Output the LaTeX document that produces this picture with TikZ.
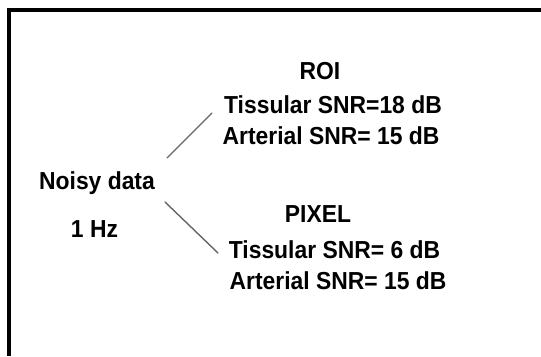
\documentclass[tikz,border=0pt]{standalone}
\usepackage{fontspec}
\setmainfont{Liberation Sans}[FakeStretch=0.93]
\usepackage{xcolor}
\usepackage{tikz}
\tikzset{
  fdframe/.style={line width=2pt, draw=black, line cap=butt},
  fdlink/.style={line width=0.8pt, draw=black!60, line cap=round},
  fdtext/.style={font=\fontsize{14}{16}\selectfont\bfseries, inner sep=0pt, anchor=center},
}

\begin{document}
\begin{tikzpicture}
\useasboundingbox (0.000,0.000) rectangle (10.820,7.120);
\draw[fdframe] (10.820,6.920) -- (0.180,6.920) -- (0.180,0.000);
\node[fdtext] (noisy) at (1.940,3.460) {Noisy data};
\node[fdtext] (hz) at (1.890,2.540) {1 Hz};
\node[fdtext] (roi) at (6.400,5.700) {ROI};
\node[fdtext] (roitis) at (6.660,5.020) {Tissular SNR=18 dB};
\node[fdtext] (roiart) at (6.620,4.400) {Arterial SNR= 15 dB};
\node[fdtext] (pixel) at (6.360,2.840) {PIXEL};
\node[fdtext] (pixtis) at (6.690,2.120) {Tissular SNR= 6 dB};
\node[fdtext] (pixart) at (6.760,1.500) {Arterial SNR= 15 dB};
\coordinate (upfrom) at (3.340,3.960);
\coordinate (upto) at (4.240,4.860);
\coordinate (downfrom) at (3.300,3.080);
\coordinate (downto) at (4.360,2.060);
\draw[fdlink] (upfrom) -- (upto);
\draw[fdlink] (downfrom) -- (downto);
\end{tikzpicture}
\end{document}
